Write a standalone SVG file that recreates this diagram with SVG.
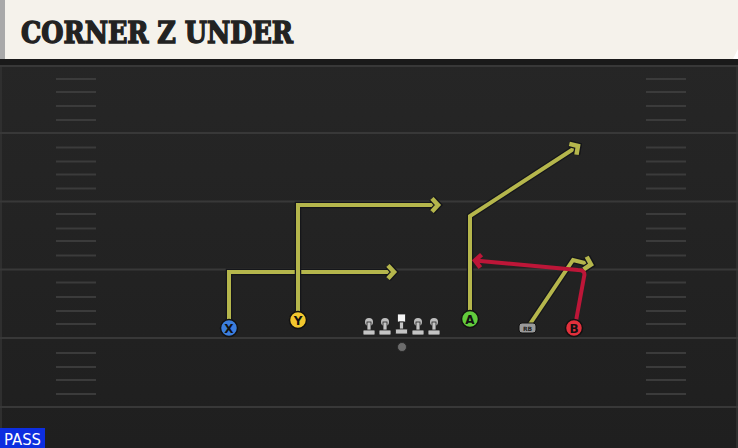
<svg xmlns="http://www.w3.org/2000/svg" width="738" height="448" viewBox="0 0 738 448">
<style>
.yl{stroke:#383838;stroke-width:2}
.hm{stroke:#3b3b3b;stroke-width:2}
.out{fill:none;stroke:#15161a;stroke-width:6.5;stroke-linejoin:miter}
.yr{fill:none;stroke:#b5b64c;stroke-width:4;stroke-linejoin:miter}
.rr{fill:none;stroke:#bd1638;stroke-width:4;stroke-linejoin:round}
.pl{stroke:#111;stroke-width:1.5}
.lt{font-family:"DejaVu Sans",sans-serif;font-weight:bold;font-size:12px;fill:#111;text-anchor:middle}
.ol{fill:#c4c4c4;stroke:#222;stroke-width:0.8}
</style>
<defs>
<linearGradient id="fg" x1="0" y1="0" x2="0" y2="1">
<stop offset="0" stop-color="#262626"/>
<stop offset="1" stop-color="#1f1f1f"/>
</linearGradient>
<marker id="ay" markerUnits="userSpaceOnUse" markerWidth="24" markerHeight="24" refX="12" refY="12" orient="auto" overflow="visible">
<path d="M6,5.5 L12,12 L6,18.5" fill="none" stroke="#15161a" stroke-width="7"/>
<path d="M6,5.5 L12,12 L6,18.5" fill="none" stroke="#b5b64c" stroke-width="4.5"/>
</marker>
<marker id="ar" markerUnits="userSpaceOnUse" markerWidth="24" markerHeight="24" refX="12" refY="12" orient="auto" overflow="visible">
<path d="M6,5.5 L12,12 L6,18.5" fill="none" stroke="#bd1638" stroke-width="4.5"/>
</marker>
</defs>
<rect x="0" y="59" width="738" height="389" fill="url(#fg)"/>
<rect x="0" y="59" width="738" height="6" fill="#1a1a1a"/>
<line x1="1" y1="65" x2="1" y2="448" stroke="#2f2f2f" stroke-width="2"/>
<line x1="737" y1="65" x2="737" y2="448" stroke="#2f2f2f" stroke-width="2"/>
<g id="field">
<line class="yl" x1="0" y1="66" x2="738" y2="66"/>
<line class="yl" x1="0" y1="133" x2="738" y2="133"/>
<line class="yl" x1="0" y1="201.5" x2="738" y2="201.5"/>
<line class="yl" x1="0" y1="269.5" x2="738" y2="269.5"/>
<line class="yl" x1="0" y1="338" x2="738" y2="338"/>
<line class="yl" x1="0" y1="407" x2="738" y2="407"/>
<g id="hashes">
<path class="hm" d="M56,79H96M56,92H96M56,106H96M56,120H96M56,147.5H96M56,161.5H96M56,174.5H96M56,188.5H96M56,214H96M56,228.5H96M56,241H96M56,255.5H96M56,282.5H96M56,297H96M56,311H96M56,324H96M56,353H96M56,367H96M56,380H96M56,394H96"/>
<path class="hm" d="M646,79H686M646,92H686M646,106H686M646,120H686M646,147.5H686M646,161.5H686M646,174.5H686M646,188.5H686M646,214H686M646,228.5H686M646,241H686M646,255.5H686M646,282.5H686M646,297H686M646,311H686M646,324H686M646,353H686M646,367H686M646,380H686M646,394H686"/>
</g>
</g>
<g id="header">
<polygon points="0,0 738,0 738,49 733,59 0,59" fill="#f5f2eb"/>
<rect x="0" y="0" width="5" height="59" fill="#a9a9a9"/>
<text x="21" y="43" font-family="'DejaVu Serif',serif" font-weight="bold" font-size="29" font-stretch="condensed" textLength="272" lengthAdjust="spacingAndGlyphs" fill="#222" stroke="#222" stroke-width="1.3">CORNER Z UNDER</text>
</g>
<g id="connectors">
<path class="out" d="M229,322 V272 H394" marker-end="url(#ay)"/>
<path class="yr" d="M229,322 V272 H394" marker-end="url(#ay)"/>
<path class="out" d="M298,314 V205 H438" marker-end="url(#ay)"/>
<path class="yr" d="M298,314 V205 H438" marker-end="url(#ay)"/>
<path class="out" d="M470,313 V216 L578,146" marker-end="url(#ay)"/>
<path class="yr" d="M470,313 V216 L578,146" marker-end="url(#ay)"/>
<path class="out" d="M530,324 L573,260 L591,264.5" marker-end="url(#ay)"/>
<path class="yr" d="M530,324 L573,260 L591,264.5" marker-end="url(#ay)"/>
<path class="rr" d="M576,321 L584,277 Q586,270 578,270 L475,260.5" marker-end="url(#ar)"/>
</g>
<g id="oline">
<g id="lt1"><circle cx="369" cy="322" r="4" fill="#bdbdbd"/><rect class="ol" x="367" y="322" width="4" height="10"/><rect class="ol" x="363" y="330" width="12" height="5" rx="1"/></g>
<g id="lt2"><circle cx="385" cy="322" r="4" fill="#bdbdbd"/><rect class="ol" x="383" y="322" width="4" height="10"/><rect class="ol" x="379" y="330" width="12" height="5" rx="1"/></g>
<g id="c"><rect x="397.5" y="314" width="8" height="8" fill="#f4f4f4" stroke="#222" stroke-width="0.8"/><rect class="ol" x="399.5" y="322" width="4" height="9"/><rect class="ol" x="395.5" y="329" width="12" height="5" rx="1"/></g>
<g id="rt1"><circle cx="418" cy="322" r="4" fill="#bdbdbd"/><rect class="ol" x="416" y="322" width="4" height="10"/><rect class="ol" x="412" y="330" width="12" height="5" rx="1"/></g>
<g id="rt2"><circle cx="434" cy="322" r="4" fill="#bdbdbd"/><rect class="ol" x="432" y="322" width="4" height="10"/><rect class="ol" x="428" y="330" width="12" height="5" rx="1"/></g>
</g>
<g id="qb"><circle cx="402" cy="347" r="4.5" fill="#6c6c6c" stroke="#222" stroke-width="0.8"/></g>
<g id="X"><circle class="pl" cx="229" cy="328" r="8.5" fill="#3b7ede"/><text class="lt" x="229" y="332.5">X</text></g>
<g id="Y"><circle class="pl" cx="298" cy="320" r="8.5" fill="#f2c72e"/><text class="lt" x="298" y="324.5">Y</text></g>
<g id="A"><circle class="pl" cx="470" cy="319" r="8.5" fill="#62cc3c"/><text class="lt" x="470" y="323.5">A</text></g>
<g id="B"><circle class="pl" cx="574" cy="328" r="8.5" fill="#e2303c"/><text class="lt" x="574" y="332.5">B</text></g>
<g id="RB"><rect x="519" y="323" width="17" height="10" rx="3" fill="#9a9a9a" stroke="#111" stroke-width="1"/><text x="527.5" y="331" font-family="'DejaVu Sans',sans-serif" font-weight="bold" font-size="6" fill="#222" text-anchor="middle">RB</text></g>
<g id="pass"><rect x="0" y="428" width="45" height="20" fill="#0d2ee0"/><text x="4" y="445" font-family="'DejaVu Sans',sans-serif" font-size="16" fill="#fff" textLength="37" lengthAdjust="spacingAndGlyphs">PASS</text></g>
</svg>
